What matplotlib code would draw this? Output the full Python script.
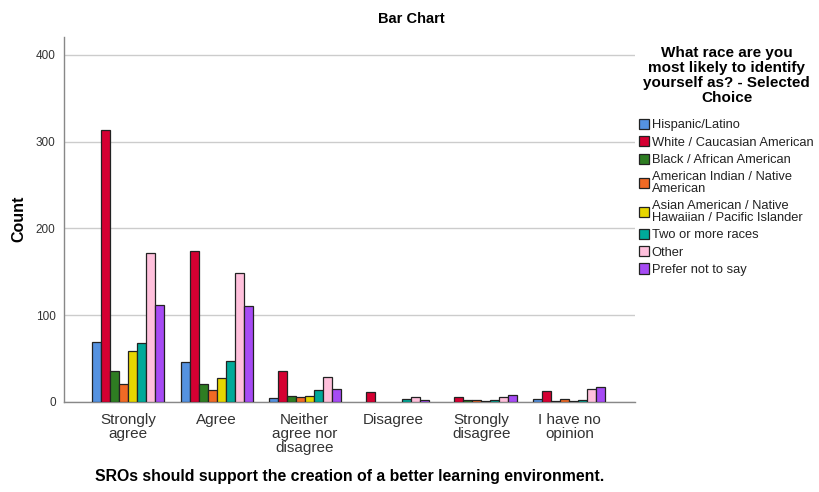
import matplotlib
matplotlib.use("Agg")
import matplotlib.pyplot as plt
from matplotlib.patches import Patch
import numpy as np

plt.rcParams['font.family'] = ['Liberation Sans', 'DejaVu Sans']

# x categories (response to the statement)
categories = ['Strongly\nagree', 'Agree', 'Neither\nagree nor\ndisagree', 'Disagree',
              'Strongly\ndisagree', 'I have no\nopinion']

# one list per race group, values in category order
races = ['Hispanic/Latino', 'White / Caucasian American', 'Black / African American',
         'American Indian / Native\nAmerican', 'Asian American / Native\nHawaiian / Pacific Islander',
         'Two or more races', 'Other', 'Prefer not to say']
hispanic = [69, 46, 4, 0, 0, 3]
white = [313, 174, 35, 11, 5, 12]
black = [35, 21, 7, 0, 2, 1]
am_indian = [21, 13, 5, 0, 2, 3]
asian = [58, 27, 7, 0, 1, 1]
two_more = [68, 47, 13, 3, 2, 2]
other = [172, 149, 28, 5, 5, 15]
no_say = [112, 110, 15, 2, 8, 17]
counts = [hispanic, white, black, am_indian, asian, two_more, other, no_say]

colors = ['#5592E0', '#D50032', '#2E7D22', '#F06A25', '#E6D600', '#00A99A', '#FFC0DC', '#A64BF4']

fig = plt.figure(figsize=(8.2, 4.92), dpi=100)
ax = fig.add_axes([0.078, 0.1835, 0.696, 0.742])

x = np.arange(len(categories))
w = 0.102
for i, (vals, c) in enumerate(zip(counts, colors)):
    pos = x + (i - 3.5) * w
    v = np.array(vals, dtype=float)
    keep = v > 0
    ax.bar(pos[keep], v[keep], width=w, color=c, edgecolor='#222222', linewidth=0.9, zorder=3)

ax.set_xlim(-0.73, 5.74)
ax.set_ylim(0, 421)
ax.set_yticks([0, 100, 200, 300, 400])
ax.yaxis.grid(True, color='#cccccc', linewidth=1.0, zorder=0)
ax.set_xticks(x)
ax.set_xticklabels(categories, fontsize=11, color='#333333', linespacing=1.02)
ax.tick_params(axis='y', labelsize=8.5, colors='#333333', length=0, pad=6)
ax.tick_params(axis='x', length=0, pad=8)
for s in ['top', 'right']:
    ax.spines[s].set_visible(False)
for s in ['left', 'bottom']:
    ax.spines[s].set_color('#888888')
    ax.spines[s].set_linewidth(1.0)

ax.set_ylabel('Count', fontsize=11.5, fontweight='bold', labelpad=7)
ax.set_xlabel('SROs should support the creation of a better learning environment.',
              fontsize=11.4, fontweight='bold', labelpad=10)
fig.text(0.502, 0.962, 'Bar Chart', ha='center', va='center', fontsize=10.5, fontweight='bold')

fig.text(0.886, 0.846, 'What race are you\nmost likely to identify\nyourself as? - Selected\nChoice',
         ha='center', va='center', fontsize=11, fontweight='bold', linespacing=1.1)

handles = [Patch(facecolor=c, edgecolor='#222222', linewidth=0.9) for c in colors]
leg = fig.legend(handles, races, loc='upper left', bbox_to_anchor=(0.768, 0.777),
                 frameon=False, fontsize=9.3, handlelength=0.8, handleheight=0.85,
                 handletextpad=0.2, labelspacing=0.37, borderpad=0.2)
for t in leg.get_texts():
    t.set_linespacing(1.0)
    t.set_color('#222222')

fig.savefig('out.png', dpi=100)
